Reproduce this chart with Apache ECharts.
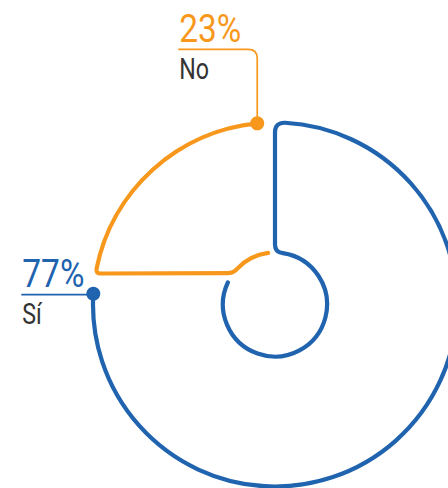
<!DOCTYPE html>
<html><head><meta charset="utf-8">
<script src="https://cdn.jsdelivr.net/npm/echarts@6/dist/echarts.min.js"></script>
<style>html,body{margin:0;padding:0;background:#fff}#c{width:448px;height:488px}</style>
</head><body><div id="c"></div>
<script>
// ---- data ----
const categories = ['Sí', 'No'];
const values = [77, 23];
const colors = ['#2063ae', '#f7981d'];

// ---- style constants ----
const INNER = 28.6; // inner radius as % of outer radius
const PAD = [ // per-slice angular offsets (degrees) of the stroke ends
  {os: 0, oe: -3.8, is: 0, ie: 17.8},
  {os: 2.6, oe: -5.6, is: 29.8, ie: -7.6}
];
const CORNER = [{o: 10, i: 8}, {o: 5, i: 6}];
const LABEL = [{rise: -1, run: 72, corner: 0}, {rise: 74, run: 79, corner: 9}];

let acc = 0;
const items = values.map(v => { const s = acc; acc += v; return [v, s, acc]; });

function f(n) { return n.toFixed(2); }

function renderItem(params, api) {
  const i = params.dataIndex;
  const start = api.value(1), end = api.value(2);
  const pad = PAD[i], cr = CORNER[i], lb = LABEL[i], col = colors[i];
  const c = api.coord([0, 0]);
  const pt = (r, a) => api.coord([r, a]);
  const dist = (p, q) => Math.hypot(p[0] - q[0], p[1] - q[1]);
  const Rpx = dist(c, pt(100, 0)), rpx = dist(c, pt(INNER, 0));
  const d2u = d => d / 3.6;
  const aos = start + d2u(pad.os), aoe = end + d2u(pad.oe);
  const ais = start + d2u(pad.is), aie = end + d2u(pad.ie);
  const Po = pt(100, aos), Pi = pt(INNER, ais);
  const L = dist(Po, Pi);
  const ux = (Pi[0] - Po[0]) / L, uy = (Pi[1] - Po[1]) / L;
  const Ao = pt(100, aos + d2u(cr.o / Rpx * 180 / Math.PI));
  const Eo = [Po[0] + ux * cr.o, Po[1] + uy * cr.o];
  const Ai = pt(INNER, ais + d2u(cr.i / rpx * 180 / Math.PI));
  const Ei = [Pi[0] - ux * cr.i, Pi[1] - uy * cr.i];
  const Oe = pt(100, aoe), Ie = pt(INNER, aie);
  const spanO = (aoe - aos) * 3.6, spanI = (aie - ais) * 3.6;
  const d = 'M' + f(Oe[0]) + ' ' + f(Oe[1]) +
    ' A' + f(Rpx) + ' ' + f(Rpx) + ' 0 ' + (spanO > 180 ? 1 : 0) + ' 0 ' + f(Ao[0]) + ' ' + f(Ao[1]) +
    ' Q' + f(Po[0]) + ' ' + f(Po[1]) + ' ' + f(Eo[0]) + ' ' + f(Eo[1]) +
    ' L' + f(Ei[0]) + ' ' + f(Ei[1]) +
    ' Q' + f(Pi[0]) + ' ' + f(Pi[1]) + ' ' + f(Ai[0]) + ' ' + f(Ai[1]) +
    ' A' + f(rpx) + ' ' + f(rpx) + ' 0 ' + (spanI > 180 ? 1 : 0) + ' 1 ' + f(Ie[0]) + ' ' + f(Ie[1]);

  const ly = Oe[1] - lb.rise, lx = Oe[0] - lb.run;
  let ld;
  if (lb.corner > 0) {
    ld = 'M' + f(Oe[0]) + ' ' + f(Oe[1]) + ' L' + f(Oe[0]) + ' ' + f(ly + lb.corner) +
      ' Q' + f(Oe[0]) + ' ' + f(ly) + ' ' + f(Oe[0] - lb.corner) + ' ' + f(ly) +
      ' L' + f(lx) + ' ' + f(ly);
  } else {
    ld = 'M' + f(Oe[0]) + ' ' + f(ly) + ' L' + f(lx) + ' ' + f(ly);
  }
  return {
    type: 'group',
    children: [
      {type: 'path', shape: {pathData: d}, style: {fill: 'none', stroke: col, lineWidth: 4.2, lineCap: 'round', lineJoin: 'round'}},
      {type: 'path', shape: {pathData: ld}, style: {fill: 'none', stroke: col, lineWidth: 1.7}},
      {type: 'circle', shape: {cx: Oe[0], cy: Oe[1], r: 7}, style: {fill: col}},
      {type: 'text', x: lx + 1, y: ly - 1, scaleX: 0.88,
        style: {text: values[i] + '%', fill: col, fontFamily: 'Roboto', fontWeight: 'normal', fontSize: 38, align: 'left', verticalAlign: 'bottom'}},
      {type: 'text', x: lx + 1, y: ly + 5, scaleX: 0.8,
        style: {text: categories[i], fill: '#333333', fontFamily: 'Roboto', fontWeight: 'normal', fontSize: 29, align: 'left', verticalAlign: 'top'}}
    ]
  };
}

const chart = echarts.init(document.getElementById('c'), null, {renderer: 'svg'});
chart.setOption({
  animation: false,
  polar: {center: [275, 304.5], radius: 182},
  angleAxis: {type: 'value', min: 0, max: 100, startAngle: 90, clockwise: true, show: false},
  radiusAxis: {type: 'value', min: 0, max: 100, show: false},
  series: [{type: 'custom', coordinateSystem: 'polar', clip: false, silent: true, data: items, renderItem: renderItem}]
});
</script></body></html>
